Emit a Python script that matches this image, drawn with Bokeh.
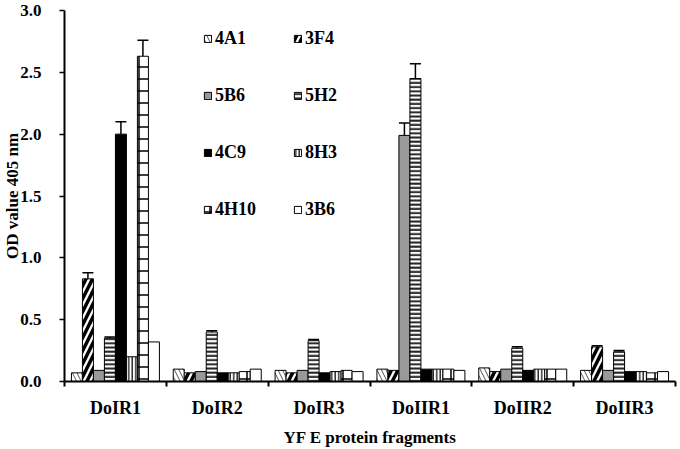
from bokeh.plotting import figure
from bokeh.models import (ColumnDataSource, FixedTicker, Legend, LegendItem,
                          Whisker, TeeHead, Range1d)
from bokeh.embed import file_html
from bokeh.resources import INLINE

groups = ["DoIR1", "DoIR2", "DoIR3", "DoIIR1", "DoIIR2", "DoIIR3"]
series = ["4A1", "3F4", "5B6", "5H2", "4C9", "8H3", "4H10", "3B6"]

v_4A1 = [0.07, 0.10, 0.09, 0.10, 0.11, 0.09]
v_3F4 = [0.83, 0.07, 0.07, 0.09, 0.08, 0.28]
v_5B6 = [0.09, 0.08, 0.09, 1.99, 0.10, 0.09]
v_5H2 = [0.35, 0.40, 0.33, 2.45, 0.27, 0.24]
v_4C9 = [2.00, 0.07, 0.07, 0.10, 0.09, 0.08]
v_8H3 = [0.20, 0.07, 0.08, 0.10, 0.10, 0.08]
v_4H10 = [2.63, 0.08, 0.09, 0.10, 0.10, 0.07]
v_3B6 = [0.32, 0.10, 0.08, 0.09, 0.10, 0.08]

e_4A1 = [0, 0, 0, 0, 0, 0]
e_3F4 = [0.05, 0, 0, 0, 0, 0.01]
e_5B6 = [0, 0, 0, 0.10, 0, 0]
e_5H2 = [0.01, 0.01, 0.01, 0.12, 0.01, 0.01]
e_4C9 = [0.10, 0, 0, 0, 0, 0]
e_8H3 = [0, 0, 0, 0, 0, 0]
e_4H10 = [0.13, 0, 0, 0, 0, 0]
e_3B6 = [0, 0, 0, 0, 0, 0]

values = [v_4A1, v_3F4, v_5B6, v_5H2, v_4C9, v_8H3, v_4H10, v_3B6]
errors = [e_4A1, e_3F4, e_5B6, e_5H2, e_4C9, e_8H3, e_4H10, e_3B6]

styles = {
    "4A1": dict(fill_color="white", hatch_pattern="\\", hatch_scale=9, hatch_weight=1, hatch_color="#555555"),
    "3F4": dict(fill_color="white", hatch_pattern="/", hatch_scale=13, hatch_weight=3.5, hatch_color="black"),
    "5B6": dict(fill_color="#999999"),
    "5H2": dict(fill_color="white", hatch_pattern="-", hatch_scale=4.2, hatch_weight=2, hatch_color="#222222"),
    "4C9": dict(fill_color="black"),
    "8H3": dict(fill_color="white", hatch_pattern="|", hatch_scale=3.5, hatch_weight=1.4, hatch_color="#222222"),
    "4H10": dict(fill_color="white", hatch_pattern="+", hatch_scale=12, hatch_weight=1.5, hatch_color="black"),
    "3B6": dict(fill_color="white"),
}

FONT = "Liberation Serif"
bar_w = 0.108
W, H = 678, 449
B_LEFT, B_RIGHT, B_TOP, B_BOT = 62, 3, 10, 66

p = figure(width=W, height=H, output_backend="svg", toolbar_location=None,
           x_range=Range1d(0, len(groups)), y_range=Range1d(0, 3.0),
           min_border_left=B_LEFT, min_border_right=B_RIGHT, min_border_top=B_TOP,
           min_border_bottom=B_BOT)
p.outline_line_color = None
p.xgrid.visible = False
p.ygrid.visible = False
p.background_fill_color = "white"

renderers = {}
for j, (name, vals, errs) in enumerate(zip(series, values, errors)):
    xs = [i + 0.5 + (j - 3.5) * bar_w for i in range(len(groups))]
    src = ColumnDataSource(dict(x=xs, top=vals))
    r = p.vbar(x="x", top="top", width=bar_w, bottom=0, source=src,
               line_color="black", line_width=1, **styles[name])
    renderers[name] = r
    idx = [k for k, e in enumerate(errs) if e > 0]
    if idx:
        wsrc = ColumnDataSource(dict(x=[xs[k] for k in idx], lo=[vals[k] for k in idx],
                                     up=[vals[k] + errs[k] for k in idx]))
        w = Whisker(base="x", lower="lo", upper="up", source=wsrc, dimension="height",
                    line_color="black", line_width=1.5,
                    upper_head=TeeHead(size=11, line_color="black", line_width=1.5),
                    lower_head=None)
        p.add_layout(w)

# axes
p.xaxis.ticker = FixedTicker(ticks=[i + 0.5 for i in range(len(groups))],
                             minor_ticks=list(range(len(groups) + 1)))
p.xaxis.major_label_overrides = {i + 0.5: g for i, g in enumerate(groups)}
p.xaxis.major_tick_line_color = None
p.xaxis.major_tick_in = 0
p.xaxis.major_tick_out = 0
p.xaxis.minor_tick_in = 0
p.xaxis.minor_tick_out = 5
p.xaxis.minor_tick_line_width = 2
p.xaxis.major_label_standoff = 11
p.xaxis.axis_label = "YF E protein fragments"
p.xaxis.axis_label_standoff = 7

p.yaxis.ticker = FixedTicker(ticks=[0, 0.5, 1.0, 1.5, 2.0, 2.5, 3.0], minor_ticks=[])
p.yaxis.major_label_overrides = {0: "0.0", 0.5: "0.5", 1.0: "1.0", 1.5: "1.5",
                                 2.0: "2.0", 2.5: "2.5", 3.0: "3.0"}
p.yaxis.major_tick_in = 0
p.yaxis.major_tick_out = 5
p.yaxis.major_tick_line_width = 1.5
p.yaxis.major_label_standoff = 18
p.yaxis.axis_label = "OD value 405 nm"
p.yaxis.axis_label_standoff = -5

for ax in (p.xaxis, p.yaxis):
    ax.axis_line_width = 2
    ax.axis_line_color = "black"
    ax.major_label_text_font = FONT
    ax.major_label_text_font_style = "bold"
    ax.major_label_text_color = "black"
    ax.axis_label_text_font = FONT
    ax.axis_label_text_font_style = "bold"
    ax.axis_label_text_font_size = "17px"
    ax.axis_label_text_color = "black"
p.xaxis.major_label_text_font_size = "18px"
p.yaxis.major_label_text_font_size = "17px"

frame_h = H - B_TOP - B_BOT

# legends: two columns
cols = [["4A1", "5B6", "4C9", "4H10"], ["3F4", "5H2", "8H3", "3B6"]]
xlocs = [139, 229]
for names, xl in zip(cols, xlocs):
    leg = Legend(items=[LegendItem(label=n, renderers=[renderers[n]]) for n in names],
                 location=(xl, frame_h - 212), orientation="vertical",
                 glyph_width=9, glyph_height=9, label_standoff=3,
                 label_height=20, spacing=36, padding=0, margin=0,
                 border_line_color=None, background_fill_alpha=0,
                 label_text_font=FONT, label_text_font_style="bold",
                 label_text_font_size="18px", label_text_color="black")
    p.add_layout(leg, "center")

open("out.html", "w").write(file_html(p, INLINE))
